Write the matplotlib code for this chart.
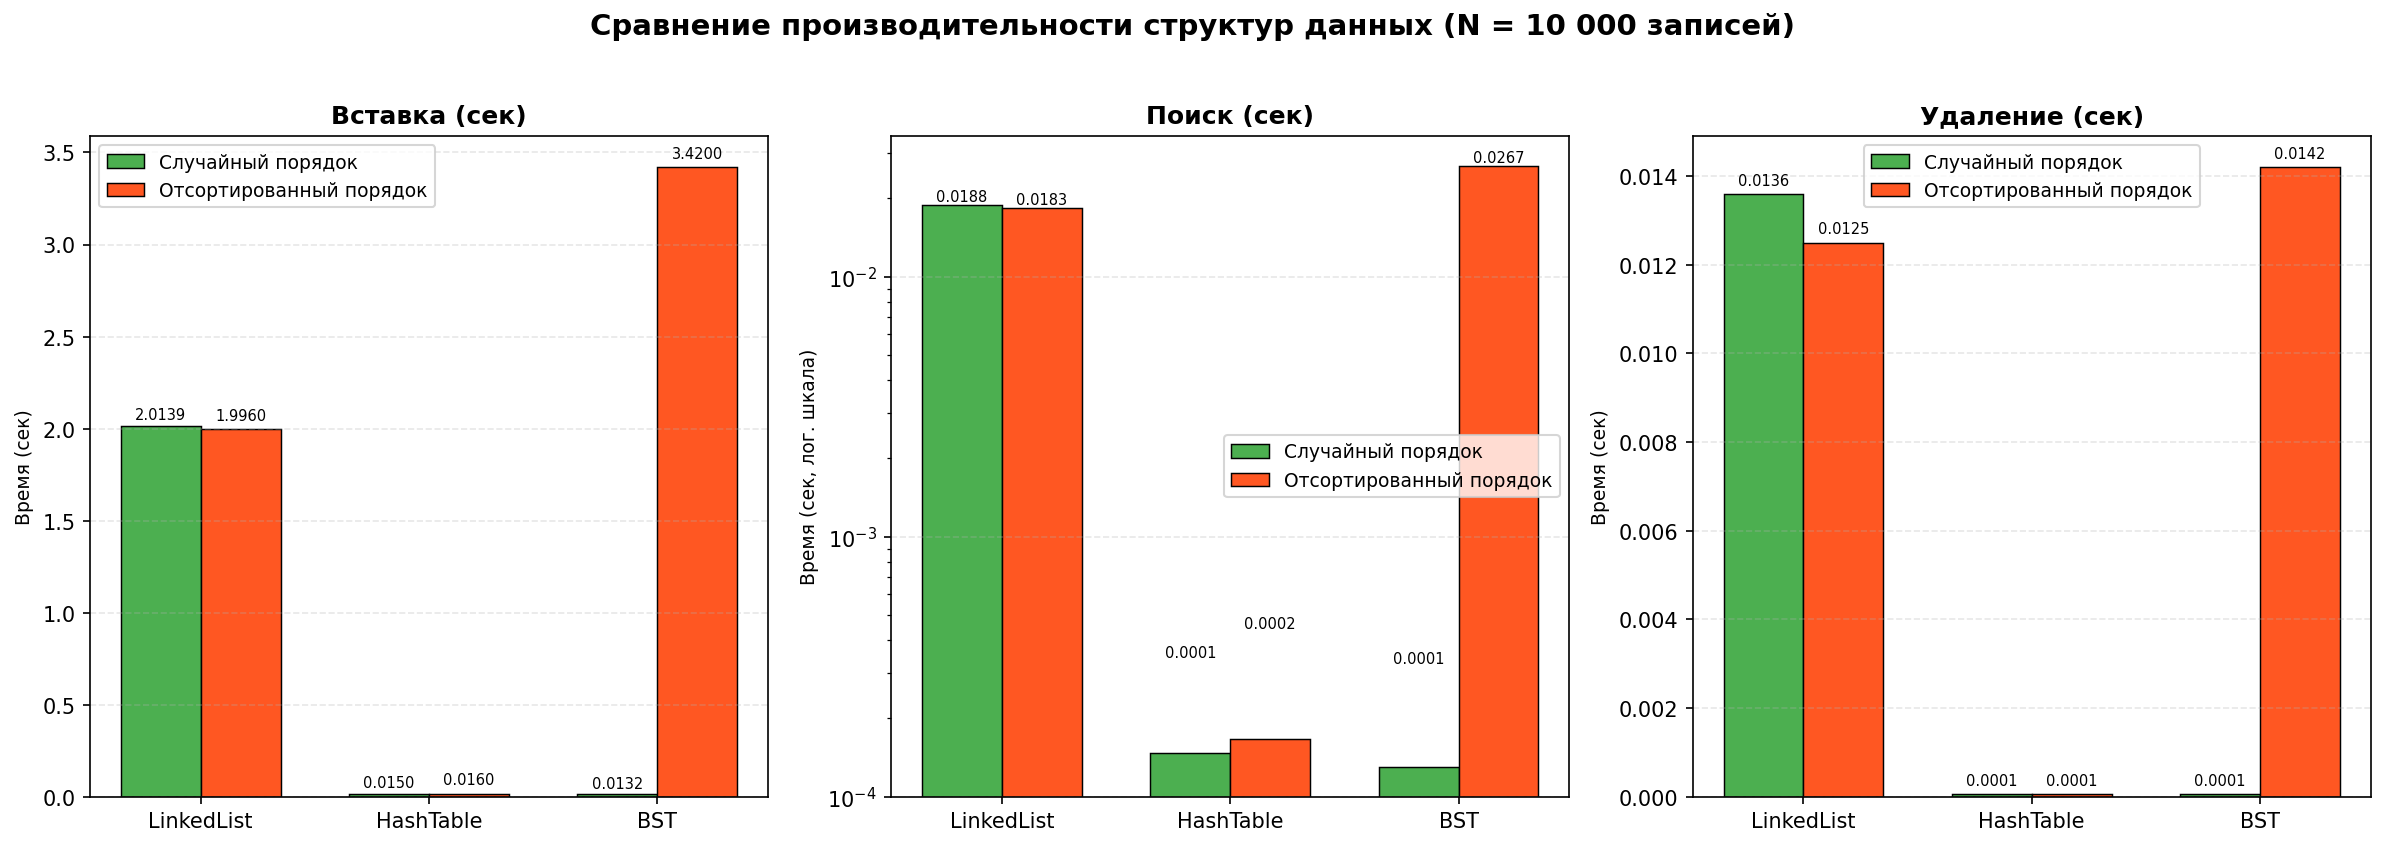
import matplotlib
matplotlib.use('Agg')
import matplotlib.pyplot as plt
import numpy as np

# Названия структур и результаты замеров (сек)
structures = ['LinkedList', 'HashTable', 'BST']
series_names = ['Случайный порядок', 'Отсортированный порядок']

insert_random = [2.0139, 0.0150, 0.0132]
insert_sorted = [1.9960, 0.0160, 3.4200]

search_random = [0.0188, 0.000147, 0.000130]
search_sorted = [0.0183, 0.000166, 0.0267]

delete_random = [0.0136, 0.00006, 0.00006]
delete_sorted = [0.0125, 0.00006, 0.0142]

colors = ['#4CAF50', '#FF5722']
width = 0.35
x = np.arange(len(structures))

fig, axes = plt.subplots(1, 3, figsize=(15.9, 5.653), dpi=150)
fig.suptitle('Сравнение производительности структур данных (N = 10 000 записей)',
             fontsize=14, fontweight='bold', y=0.985)

panels = [
    ('Вставка (сек)', insert_random, insert_sorted, 'Время (сек)', False, 'upper left'),
    ('Поиск (сек)', search_random, search_sorted, 'Время (сек, лог. шкала)', True, 'center right'),
    ('Удаление (сек)', delete_random, delete_sorted, 'Время (сек)', False, 'upper center'),
]

for ax, (title, rnd, srt, ylabel, logy, loc) in zip(axes, panels):
    for i, vals in enumerate([rnd, srt]):
        bars = ax.bar(x + (i - 0.5) * width, vals, width, label=series_names[i],
                      color=colors[i], edgecolor='black', linewidth=0.7)
        offset = max(vals) * 0.01
        for b, v in zip(bars, vals):
            ax.text(b.get_x() + b.get_width() / 2, v + offset, f'{v:.4f}',
                    ha='center', va='bottom', fontsize=7)
    if logy:
        ax.set_yscale('log')
        ax.set_ylim(bottom=1e-4)
    ax.set_title(title, fontsize=12, fontweight='bold')
    ax.set_ylabel(ylabel, fontsize=9)
    ax.set_xticks(x)
    ax.set_xticklabels(structures, fontsize=10)
    ax.grid(axis='y', linestyle='--', alpha=0.3)
    ax.legend(loc=loc, fontsize=9)

plt.subplots_adjust(left=0.0377, right=0.994, top=0.8388, bottom=0.0593, wspace=0.182)
plt.savefig('out.png', dpi=150)
